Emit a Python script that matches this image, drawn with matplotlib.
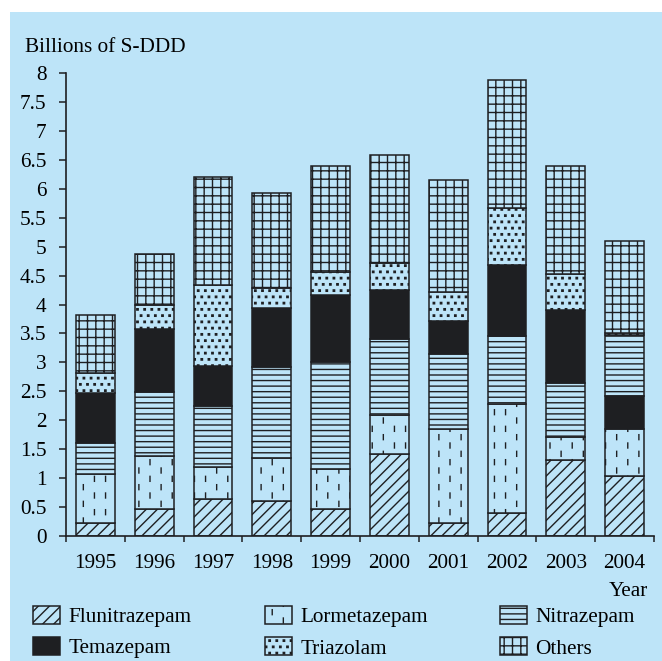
import numpy as np
import matplotlib
matplotlib.use("Agg")
import matplotlib.pyplot as plt
import matplotlib.hatch as mhatch
from matplotlib.path import Path
from matplotlib.patches import Patch, Rectangle

# ---------------- data ----------------
years = ['1995', '1996', '1997', '1998', '1999', '2000', '2001', '2002', '2003', '2004']
flunitrazepam = [0.22, 0.47, 0.63, 0.60, 0.47, 1.41, 0.22, 0.40, 1.31, 1.03]
lormetazepam  = [0.84, 0.91, 0.56, 0.74, 0.68, 0.68, 1.63, 1.88, 0.39, 0.81]
nitrazepam    = [0.55, 1.11, 1.06, 1.58, 1.86, 1.31, 1.30, 1.18, 0.94, 1.05]
temazepam     = [0.86, 1.08, 0.69, 1.02, 1.15, 0.85, 0.57, 1.23, 1.26, 0.58]
triazolam     = [0.34, 0.43, 1.40, 0.34, 0.40, 0.46, 0.49, 0.98, 0.63, 0.03]
others        = [1.00, 0.87, 1.86, 1.65, 1.84, 1.88, 1.94, 2.21, 1.87, 1.59]
series_names = ['Flunitrazepam', 'Lormetazepam', 'Nitrazepam', 'Temazepam', 'Triazolam', 'Others']
y_ticks = [0, 0.5, 1, 1.5, 2, 2.5, 3, 3.5, 4, 4.5, 5, 5.5, 6, 6.5, 7, 7.5, 8]

series = dict(zip(series_names, [flunitrazepam, lormetazepam, nitrazepam,
                                 temazepam, triazolam, others]))
# stacking order (2004 is stacked differently in the original)
default_order = ['Flunitrazepam', 'Lormetazepam', 'Nitrazepam', 'Temazepam', 'Triazolam', 'Others']
special_order = {'2004': ['Flunitrazepam', 'Lormetazepam', 'Temazepam', 'Nitrazepam', 'Triazolam', 'Others']}


# ---------------- custom hatches ----------------
class DashHatch(mhatch.HatchPatternBase):
    """short vertical dashes in staggered columns (uses '*')"""
    cols, rows, L = 9, 6, 0.05

    def __init__(self, hatch, density):
        self.on = hatch.count('*') > 0
        self.num_vertices = self.cols * self.rows * 2 if self.on else 0

    def set_vertices_and_codes(self, vertices, codes):
        k = 0
        for i in range(self.cols):
            x = (i + 0.5) / self.cols
            for j in range(self.rows):
                y0 = (j + 0.5 * (i % 2)) / self.rows + 0.02
                vertices[k] = (x, y0)
                vertices[k + 1] = (x, y0 + self.L)
                codes[k] = Path.MOVETO
                codes[k + 1] = Path.LINETO
                k += 2


class DotHatch(mhatch.HatchPatternBase):
    """small square dots on a staggered grid (uses 'o')"""
    cols, rows, s = 14, 16, 0.007

    def __init__(self, hatch, density):
        self.on = hatch.count('o') > 0
        self.num_vertices = self.cols * self.rows * 5 if self.on else 0

    def set_vertices_and_codes(self, vertices, codes):
        k = 0
        s = self.s
        for j in range(self.rows):
            y = (j + 0.5) / self.rows
            for i in range(self.cols):
                x = (i + 0.25 + 0.5 * (j % 2)) / self.cols
                vertices[k:k + 5] = [(x - s, y - s), (x + s, y - s), (x + s, y + s),
                                     (x - s, y + s), (x - s, y - s)]
                codes[k:k + 5] = [Path.MOVETO, Path.LINETO, Path.LINETO,
                                  Path.LINETO, Path.CLOSEPOLY]
                k += 5


mhatch._hatch_types = [c for c in mhatch._hatch_types
                       if c not in (mhatch.Stars, mhatch.SmallCircles)] + [DashHatch, DotHatch]

# ---------------- style ----------------
BG = '#bde4f8'
INK = '#1e1f22'
plt.rcParams['font.family'] = ['Liberation Serif', 'DejaVu Serif']
plt.rcParams['font.size'] = 15.3
plt.rcParams['hatch.linewidth'] = 1.0
plt.rcParams['hatch.color'] = INK

styles = {
    'Flunitrazepam': dict(facecolor=BG, hatch='///'),
    'Lormetazepam':  dict(facecolor=BG, hatch='*'),
    'Nitrazepam':    dict(facecolor=BG, hatch='---'),
    'Temazepam':     dict(facecolor=INK, hatch=None),
    'Triazolam':     dict(facecolor=BG, hatch='o'),
    'Others':        dict(facecolor=BG, hatch='++'),
}

fig = plt.figure(figsize=(6.62, 6.61), dpi=100)
fig.patches.append(Rectangle((10 / 662, 0), 1, 649 / 661, transform=fig.transFigure,
                             facecolor=BG, edgecolor='none', zorder=-10))

ax = fig.add_axes([66 / 662, (661 - 535.7) / 661, 588 / 662, 462.4 / 661])
ax.set_facecolor('none')

n = len(years)
x = np.arange(n) + 0.5
bottoms = {name: np.zeros(n) for name in series_names}
for i, yr in enumerate(years):
    order = special_order.get(yr, default_order)
    acc = 0.0
    for name in order:
        bottoms[name][i] = acc
        acc += series[name][i]

for name in series_names:
    st = styles[name]
    ax.bar(x, series[name], bottom=bottoms[name], width=0.66,
           facecolor=st['facecolor'], hatch=st['hatch'],
           edgecolor=INK, linewidth=1.1, zorder=2)

ax.set_xlim(0, n)
ax.set_ylim(0, 8)
for sp in ['top', 'right']:
    ax.spines[sp].set_visible(False)
for sp in ['left', 'bottom']:
    ax.spines[sp].set_color(INK)
    ax.spines[sp].set_linewidth(1.2)

ax.set_yticks(y_ticks)
ax.set_yticklabels([f'{v:g}' for v in y_ticks])
ax.tick_params(axis='y', direction='out', length=5, width=1.1, color=INK, pad=9)

ax.set_xticks(np.arange(n + 1))
ax.set_xticklabels([])
ax.tick_params(axis='x', which='major', direction='out', length=4.3, width=1.1, color=INK)
ax.set_xticks(x, minor=True)
ax.set_xticklabels(years, minor=True)
ax.tick_params(axis='x', which='minor', length=0, pad=13)

fig.text(25 / 662, (661 - 52) / 661, 'Billions of S-DDD', ha='left', va='baseline')
fig.text(648 / 662, (661 - 596) / 661, 'Year', ha='right', va='baseline')

# legend: three columns placed like the original
handles = {name: Patch(facecolor=styles[name]['facecolor'], hatch=styles[name]['hatch'],
                       edgecolor=INK, linewidth=1.1) for name in series_names}
columns = [(['Flunitrazepam', 'Temazepam'], 33),
           (['Lormetazepam', 'Triazolam'], 265),
           (['Nitrazepam', 'Others'], 500)]
for names, xpx in columns:
    fig.legend([handles[nm] for nm in names], names, loc='upper left',
               bbox_to_anchor=(xpx / 662, (661 - 606) / 661), frameon=False,
               borderpad=0, borderaxespad=0, handlelength=1.25, handleheight=0.95,
               handletextpad=0.42, labelspacing=0.45)

fig.savefig('out.png', dpi=100)
